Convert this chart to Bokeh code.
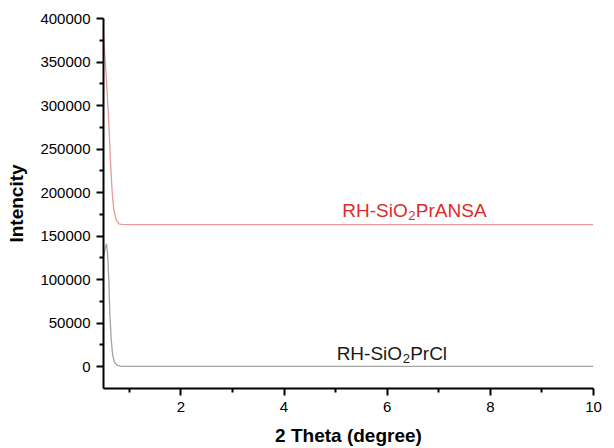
from bokeh.plotting import figure
from bokeh.models import Range1d, FixedTicker, BasicTickFormatter, Label
from bokeh.embed import file_html
from bokeh.resources import INLINE

# ---- data ----
ansa_x = [0.50, 0.558, 0.603, 0.636, 0.669, 0.70, 0.746, 0.797, 0.85, 1.0, 2.0, 3.0, 4.0, 5.0, 6.0, 7.0, 8.0, 9.0, 10.0]
ansa_y = [381000, 329300, 279600, 234200, 199800, 180300, 168800, 164200, 163500, 163300, 163300, 163300, 163300, 163300, 163300, 163300, 163300, 163300, 163300]

cl_x = [0.50, 0.53, 0.558, 0.583, 0.603, 0.622, 0.649, 0.68, 0.719, 0.771, 0.85, 1.0, 2.0, 3.0, 4.0, 5.0, 6.0, 7.0, 8.0, 9.0, 10.0]
cl_y = [126000, 136000, 141300, 126800, 100000, 61900, 31300, 12100, 4600, 1500, 500, 300, 300, 300, 300, 300, 300, 300, 300, 300, 300]

x_major = [2, 4, 6, 8, 10]
x_minor = [1, 3, 5, 7, 9]
y_major = [0, 50000, 100000, 150000, 200000, 250000, 300000, 350000, 400000]
y_minor = [25000, 75000, 125000, 175000, 225000, 275000, 325000, 375000]

# annotation texts: (main, subscript, rest), anchor (x, y) in data units
ansa_label = ("RH-SiO", "2", "PrANSA")
ansa_label_pos = (5.13, 179000)
cl_label = ("RH-SiO", "2", "PrCl")
cl_label_pos = (5.02, 15000)

FONT = "Liberation Sans"

p = figure(width=614, height=448, output_backend="svg", toolbar_location=None,
           x_range=Range1d(0.5, 10), y_range=Range1d(-25000, 400000),
           min_border_left=103, min_border_right=21, min_border_top=18, min_border_bottom=59)
p.outline_line_color = None
p.xgrid.visible = False
p.ygrid.visible = False
p.background_fill_color = "white"
p.border_fill_color = "white"

p.line(ansa_x, ansa_y, line_color="#e89a9a", line_width=1.3)
p.line(cl_x, cl_y, line_color="#a3a3a3", line_width=1.3)

for ax, maj, mnr in ((p.xaxis[0], x_major, x_minor), (p.yaxis[0], y_major, y_minor)):
    ax.ticker = FixedTicker(ticks=maj, minor_ticks=mnr)
    ax.axis_line_width = 2
    ax.axis_line_color = "#000000"
    ax.major_tick_line_width = 2
    ax.minor_tick_line_width = 2
    ax.major_tick_line_color = "#000000"
    ax.minor_tick_line_color = "#000000"
    ax.major_tick_out = 7
    ax.major_tick_in = 0
    ax.minor_tick_out = 4
    ax.minor_tick_in = 0
    ax.major_label_text_font = FONT
    ax.major_label_text_font_size = "15px"
    ax.major_label_text_color = "#000000"
    ax.axis_label_text_font = FONT
    ax.axis_label_text_font_size = "19px"
    ax.axis_label_text_font_style = "bold"
    ax.axis_label_text_color = "#000000"

p.yaxis[0].formatter = BasicTickFormatter(use_scientific=False)
p.xaxis[0].axis_label = "2 Theta (degree)"
p.yaxis[0].axis_label = "Intencity"
p.xaxis[0].axis_label_standoff = 10
p.yaxis[0].axis_label_standoff = 10
p.xaxis[0].major_label_standoff = 6
p.yaxis[0].major_label_standoff = 6

def add_label(parts, pos, color):
    main, sub, rest = parts
    x, y = pos
    p.add_layout(Label(x=x, y=y, text=main, text_font=FONT, text_font_size="19px",
                       text_color=color, text_baseline="alphabetic", text_align="left"))
    p.add_layout(Label(x=x, y=y, x_offset=66, y_offset=-4.5, text=sub, text_font=FONT,
                       text_font_size="13px", text_color=color, text_baseline="alphabetic",
                       text_align="left"))
    p.add_layout(Label(x=x, y=y, x_offset=73.5, text=rest, text_font=FONT, text_font_size="19px",
                       text_color=color, text_baseline="alphabetic", text_align="left"))

add_label(ansa_label, ansa_label_pos, "#dd2b2b")
add_label(cl_label, cl_label_pos, "#1a1a1a")

open("out.html", "w").write(file_html(p, INLINE))
